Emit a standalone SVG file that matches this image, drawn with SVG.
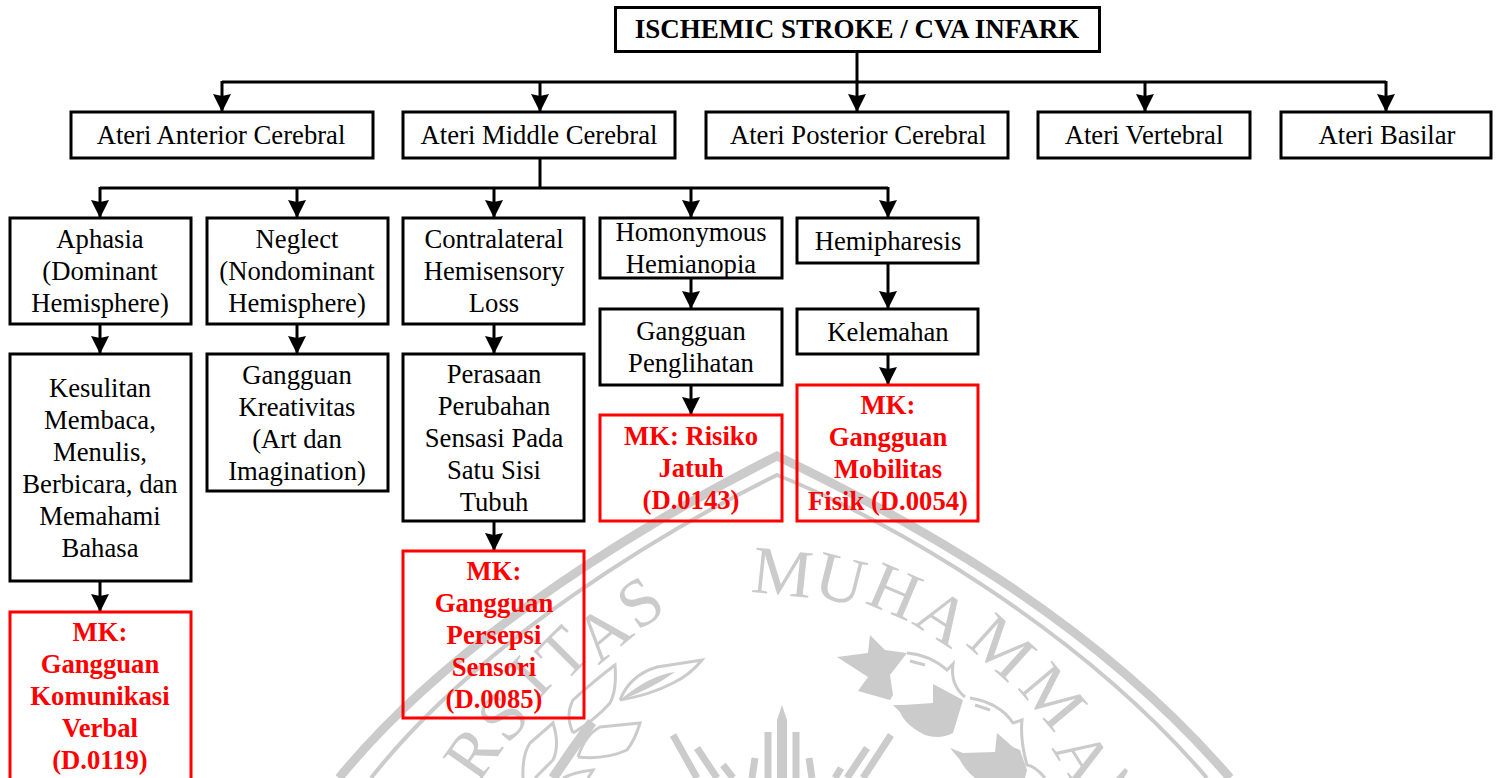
<svg xmlns="http://www.w3.org/2000/svg" width="1501" height="778" viewBox="0 0 1501 778">
<style>
text{font-family:"Liberation Serif","Times New Roman",serif;font-size:26.67px;text-anchor:middle;fill:#000}
.b{fill:none;stroke:#000;stroke-width:3}
.r{fill:none;stroke:#f00;stroke-width:3}
.rt{fill:#f00;font-weight:bold}
.c{fill:none;stroke:#000;stroke-width:3}
text.wm{fill:#cbcbcb;font-size:68px}
.ws{fill:none;stroke:#cbcbcb}
.wf{fill:#cbcbcb}
.wl{fill:none;stroke:#cbcbcb;stroke-width:3}
.sp{fill:none;stroke:#cbcbcb;stroke-width:7}
</style>
<defs><marker id="a" markerUnits="userSpaceOnUse" markerWidth="18" markerHeight="19" refX="18" refY="9.500" orient="auto"><path d="M0 0.500L18 9.500L0 18.500L2 9.500Z" fill="#000"/></marker></defs>
<g id="watermark">
<path class="ws" stroke-width="9" d="M339 778C460 630 660 515 777 456C900 515 1090 615 1230 778"/>
<path class="ws" stroke-width="4" d="M371 778C480 640 665 530 777 475C890 520 1080 630 1207 778"/>
<text class="wm" transform="translate(780 595) rotate(6)">M</text>
<text class="wm" transform="translate(835 601) rotate(14)">U</text>
<text class="wm" transform="translate(886 612) rotate(23)">H</text>
<text class="wm" transform="translate(931 636) rotate(33)">A</text>
<text class="wm" transform="translate(987 664) rotate(42)">M</text>
<text class="wm" transform="translate(1036 711) rotate(50)">M</text>
<text class="wm" transform="translate(1064 769) rotate(58)">A</text>
<path class="wf" d="M1116 778L1125 768L1128 771L1124 778Z"/>
<text class="wm" transform="translate(653 621) rotate(-35)">S</text>
<text class="wm" transform="translate(617 650) rotate(-40)">A</text>
<text class="wm" transform="translate(579 669) rotate(-45)">T</text>
<text class="wm" transform="translate(546 692) rotate(-47)">I</text>
<text class="wm" transform="translate(520 731) rotate(-50)">S</text>
<text class="wm" transform="translate(491 766) rotate(-55)">R</text>
<path class="wf" d="M870 635L885 650L907 653L890 675L893 695L890 700L858 691L868 677L837 657L868 653Z"/>
<path class="wf" d="M893 705L903 705L933 703L933 684L948 692L963 700L953 733Q940 740 925 735Q905 725 900 712Z"/>
<path class="wl" d="M907 653Q930 655 947 670L953 664Q950 685 965 697"/>
<path class="wl" d="M910 661L925 665"/>
<path class="wf" d="M950 748L963 753L995 752L997 733L1013 747L1020 750L1027 770L1025 778L975 778Q965 770 960 760Z"/>
<path class="wl" d="M970 698Q1000 703 1013 723L1022 720Q1020 740 1027 765Q1035 766 1045 778"/>
<path class="wl" d="M975 705L990 710"/>
<path class="wf" d="M782 705L787 720L787 778L777 778L777 720Z"/>
<path class="sp" d="M768 732V778M796 732V778M755 758L752 778M809 758L812 778M723 765L733 778M841 768L835 778M697 748L717 778M867 748L847 778M673 735L697 778M891 735L863 778"/>
<path class="wl" d="M620 700Q630 675 657 667L702 660Q690 675 673 683Q650 695 620 700"/>
<path class="wf" d="M620 700Q650 675 675 672Q650 690 620 700Z"/>
<path class="wl" d="M573 733Q565 715 573 700Q595 680 615 665Q617 690 610 703Q595 720 573 733"/>
<path class="wl" d="M578 757Q585 735 600 727L640 723Q635 740 627 750Q605 760 578 757"/>
<path class="wl" d="M523 778Q522 755 530 743L553 723Q560 745 553 760L535 778"/>
<path class="wl" d="M563 778Q575 772 593 770L588 778"/>
<path fill="none" stroke="#cbcbcb" stroke-width="10" d="M553 778L570 753L592 722"/>
</g>
<g id="connectors">
<path class="c" d="M857 51V82M222 82H1386"/>
<path class="c" marker-end="url(#a)" d="M222 81V112"/><path class="c" marker-end="url(#a)" d="M540 82V112"/><path class="c" marker-end="url(#a)" d="M857 82V112"/><path class="c" marker-end="url(#a)" d="M1145 82V112"/><path class="c" marker-end="url(#a)" d="M1386 81V112"/>
<path class="c" d="M540 158V188M100 188H888"/>
<path class="c" marker-end="url(#a)" d="M100 187V218"/><path class="c" marker-end="url(#a)" d="M297 188V218"/><path class="c" marker-end="url(#a)" d="M494 188V218"/><path class="c" marker-end="url(#a)" d="M691 188V218"/><path class="c" marker-end="url(#a)" d="M888 187V218"/>
<path class="c" marker-end="url(#a)" d="M100 324V354"/><path class="c" marker-end="url(#a)" d="M297 324V354"/><path class="c" marker-end="url(#a)" d="M494 324V354"/>
<path class="c" marker-end="url(#a)" d="M691 278V309"/><path class="c" marker-end="url(#a)" d="M888 263V309"/>
<path class="c" marker-end="url(#a)" d="M100 581V612"/><path class="c" marker-end="url(#a)" d="M494 521V551"/><path class="c" marker-end="url(#a)" d="M691 385V415"/><path class="c" marker-end="url(#a)" d="M888 354V385"/>
</g>
<g id="n-root"><rect class="b" x="615.500" y="7.500" width="484" height="44"/><text x="857" y="38" font-weight="bold" style="font-size:27px">ISCHEMIC STROKE / CVA INFARK</text></g>
<g id="n-aca"><rect class="b" x="71" y="112" width="302" height="46"/><text x="221" y="144">Ateri Anterior Cerebral</text></g>
<g id="n-mca"><rect class="b" x="403" y="112" width="272" height="46"/><text x="539" y="144">Ateri Middle Cerebral</text></g>
<g id="n-pca"><rect class="b" x="706" y="112" width="302" height="46"/><text x="858" y="144">Ateri Posterior Cerebral</text></g>
<g id="n-va"><rect class="b" x="1038" y="112" width="212" height="46"/><text x="1144" y="144">Ateri Vertebral</text></g>
<g id="n-ba"><rect class="b" x="1281" y="112" width="210" height="46"/><text x="1387" y="144">Ateri Basilar</text></g>
<g id="n-aphasia"><rect class="b" x="10" y="218" width="181" height="106"/><text x="100" y="248">Aphasia</text><text x="100" y="280">(Dominant</text><text x="100" y="312">Hemisphere)</text></g>
<g id="n-neglect"><rect class="b" x="207" y="218" width="181" height="106"/><text x="297" y="248">Neglect</text><text x="297" y="280">(Nondominant</text><text x="297" y="312">Hemisphere)</text></g>
<g id="n-contra"><rect class="b" x="403" y="218" width="181" height="106"/><text x="494" y="248">Contralateral</text><text x="494" y="280">Hemisensory</text><text x="494" y="312">Loss</text></g>
<g id="n-homo"><rect class="b" x="600" y="218" width="182" height="60"/><text x="691" y="241">Homonymous</text><text x="691" y="273">Hemianopia</text></g>
<g id="n-hemi"><rect class="b" x="797" y="218" width="181" height="45"/><text x="888" y="250">Hemipharesis</text></g>
<g id="n-kesulitan"><rect class="b" x="10" y="354" width="181" height="227"/><text x="100" y="397">Kesulitan</text><text x="100" y="429">Membaca,</text><text x="100" y="461">Menulis,</text><text x="100" y="493">Berbicara, dan</text><text x="100" y="525">Memahami</text><text x="100" y="557">Bahasa</text></g>
<g id="n-kreativitas"><rect class="b" x="207" y="354" width="181" height="137"/><text x="297" y="384">Gangguan</text><text x="297" y="416">Kreativitas</text><text x="297" y="448">(Art dan</text><text x="297" y="480">Imagination)</text></g>
<g id="n-perasaan"><rect class="b" x="403" y="354" width="181" height="167"/><text x="494" y="383">Perasaan</text><text x="494" y="415">Perubahan</text><text x="494" y="447">Sensasi Pada</text><text x="494" y="479">Satu Sisi</text><text x="494" y="511">Tubuh</text></g>
<g id="n-penglihatan"><rect class="b" x="600" y="309" width="182" height="76"/><text x="691" y="340">Gangguan</text><text x="691" y="372">Penglihatan</text></g>
<g id="n-kelemahan"><rect class="b" x="797" y="309" width="181" height="45"/><text x="888" y="341">Kelemahan</text></g>
<g id="n-mk-verbal"><rect class="r" x="10" y="612" width="181" height="170"/><text class="rt" x="100" y="641">MK:</text><text class="rt" x="100" y="673">Gangguan</text><text class="rt" x="100" y="705">Komunikasi</text><text class="rt" x="100" y="737">Verbal</text><text class="rt" x="100" y="769">(D.0119)</text></g>
<g id="n-mk-sensori"><rect class="r" x="403" y="551" width="181" height="167"/><text class="rt" x="494" y="580">MK:</text><text class="rt" x="494" y="612">Gangguan</text><text class="rt" x="494" y="644">Persepsi</text><text class="rt" x="494" y="676">Sensori</text><text class="rt" x="494" y="708">(D.0085)</text></g>
<g id="n-mk-jatuh"><rect class="r" x="600" y="415" width="182" height="106"/><text class="rt" x="691" y="445">MK: Risiko</text><text class="rt" x="691" y="477">Jatuh</text><text class="rt" x="691" y="509">(D.0143)</text></g>
<g id="n-mk-mobilitas"><rect class="r" x="797" y="385" width="181" height="136"/><text class="rt" x="888" y="414">MK:</text><text class="rt" x="888" y="446">Gangguan</text><text class="rt" x="888" y="478">Mobilitas</text><text class="rt" x="888" y="510">Fisik (D.0054)</text></g>
</svg>
